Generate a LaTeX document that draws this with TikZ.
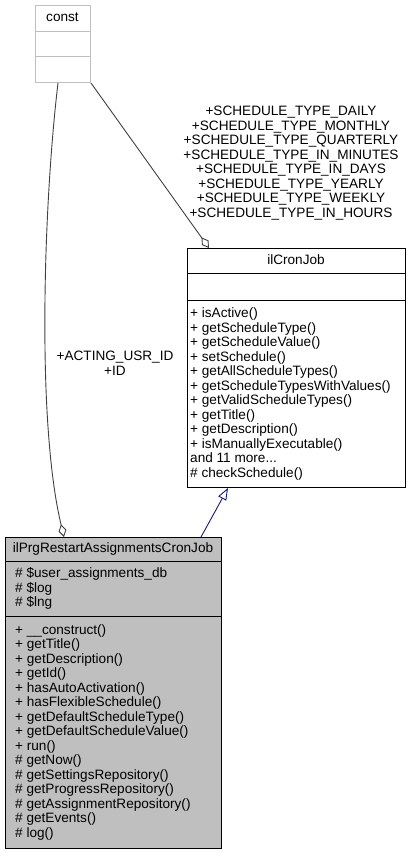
\documentclass[tikz,border=0pt]{standalone}
\usepackage{fontspec}
\setmainfont{Liberation Sans}
\usetikzlibrary{arrows.meta}

\definecolor{edgegray}{HTML}{404040}
\definecolor{inhblue}{HTML}{191970}
\definecolor{boxgray}{HTML}{BFBFBF}

\tikzset{
  classbox/.style={draw=black, line width=1pt, inner sep=0pt, anchor=north west},
  members/.style={anchor=north west, align=left, inner sep=0pt},
  aggr/.style={draw=edgegray, line width=0.9pt, -{Diamond[open, length=13pt, width=8pt]}},
  inherit/.style={draw=inhblue, line width=0.9pt, -{Triangle[open, length=12pt, width=9pt]}},
}

\begin{document}
\begin{tikzpicture}[x=1pt, y=-1pt, font=\fontsize{13.6}{14.5}\selectfont]

   \useasboundingbox (0,0) rectangle (410,853);

   % クラス const
   \node [classbox, draw=boxgray, minimum width=55pt, minimum height=77pt] (const) at (35,5) {};
   \draw [boxgray, line width=1pt](35,31.5)--(90,31.5) (35,57)--(90,57);
   \node [anchor=base] at (62.5,22) {const};

   % クラス ilCronJob
   \node [classbox, minimum width=218pt, minimum height=239pt] (cron) at (187,248) {};
   \draw [line width=1pt](187,273)--(405,273) (187,300)--(405,300);
   \node [anchor=base] at (296,264) {ilCronJob};
   \node [members] at (190,307.5) {+ isActive()\\+ getScheduleType()\\+ getScheduleValue()\\+ setSchedule()\\+ getAllScheduleTypes()\\+ getScheduleTypesWithValues()\\+ getValidScheduleTypes()\\+ getTitle()\\+ getDescription()\\+ isManuallyExecutable()\\and 11 more...\\\# checkSchedule()};

   % クラス ilPrgRestartAssignmentsCronJob
   \node [classbox, fill=boxgray, minimum width=216pt, minimum height=311pt] (prg) at (5,537) {};
   \draw [line width=1pt](5,561)--(221,561) (5,616)--(221,616);
   \node [anchor=base] at (113,552.5) {ilPrgRestartAssignmentsCronJob};
   \node [members] at (15,567.5) {\# \$user\_assignments\_db\\\# \$log\\\# \$lng};
   \node [members] at (15,624.3) {+ \_\_construct()\\+ getTitle()\\+ getDescription()\\+ getId()\\+ hasAutoActivation()\\+ hasFlexibleSchedule()\\+ getDefaultScheduleType()\\+ getDefaultScheduleValue()\\+ run()\\\# getNow()\\\# getSettingsRepository()\\\# getProgressRepository()\\\# getAssignmentRepository()\\\# getEvents()\\\# log()};

   % 関連 (const)
   \draw [aggr](const.south east)--([xshift=22pt]cron.north west);
   \node [anchor=north, align=center, inner sep=0pt] at (291,106.3){+SCHEDULE\_TYPE\_DAILY\\+SCHEDULE\_TYPE\_MONTHLY\\+SCHEDULE\_TYPE\_QUARTERLY\\+SCHEDULE\_TYPE\_IN\_MINUTES\\+SCHEDULE\_TYPE\_IN\_DAYS\\+SCHEDULE\_TYPE\_YEARLY\\+SCHEDULE\_TYPE\_WEEKLY\\+SCHEDULE\_TYPE\_IN\_HOURS};

   \draw [aggr]([xshift=23pt]const.south west) .. controls (44,200) and (36,420) .. ([xshift=59pt]prg.north west);
   \node [anchor=north, align=center, inner sep=0pt] at (115,351){+ACTING\_USR\_ID\\+ID};

   % 継承
   \draw [inherit]([xshift=196pt]prg.north west)--([xshift=41pt]cron.south west);

\end{tikzpicture}
\end{document}
